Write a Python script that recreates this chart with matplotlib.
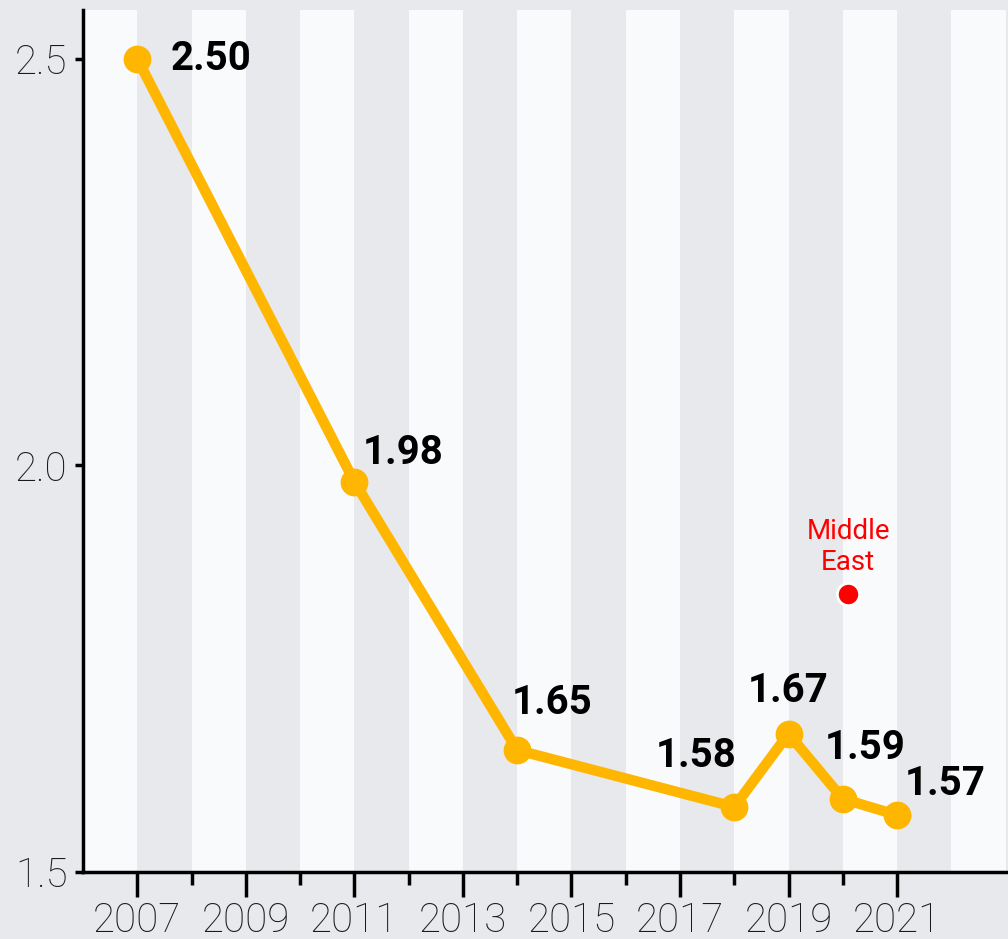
import matplotlib.pyplot as plt
from matplotlib.ticker import MultipleLocator

# data
years = [2007, 2011, 2014, 2018, 2019, 2020, 2021]
values = [2.50, 1.98, 1.65, 1.58, 1.67, 1.59, 1.57]
labels = ["2.50", "1.98", "1.65", "1.58", "1.67", "1.59", "1.57"]
# label offsets in pixels (dx, dy) and horizontal alignment
label_pos = [(33, 0, "left"), (8, 29, "left"), (-5, 47, "left"), (2, 51, "right"),
             (0, 43, "center"), (22, 51, "center"), (8, 31, "left")]
me_year = 2020.1
me_value = 1.842

band_color = "#f9fafc"
bg_color = "#e8e9ec"
line_color = "#ffb600"

plt.rcParams["font.family"] = ["Roboto", "DejaVu Sans"]

fig = plt.figure(figsize=(10.08, 9.39), dpi=100, facecolor=bg_color)
ax = fig.add_axes([83 / 1008, 67 / 939, (1005.6 - 83) / 1008, (872 - 10) / 939])
ax.set_facecolor(bg_color)

for y in range(2006, 2023, 2):
    ax.axvspan(y, y + 1, color=band_color, lw=0, zorder=0)

ax.plot(years, values, color=line_color, lw=7.5, marker="o", markersize=19,
        solid_capstyle="round", zorder=3)

for x, v, t, (dx, dy, ha) in zip(years, values, labels, label_pos):
    ax.annotate(t, (x, v), xytext=(dx, dy), textcoords="offset pixels",
                ha=ha, va="center", fontsize=29, fontweight="bold",
                color="black", zorder=4)

ax.plot([me_year], [me_value], "o", color="red", markersize=16,
        markeredgecolor="white", markeredgewidth=2, zorder=4)
ax.annotate("Middle\nEast", (me_year, me_value), xytext=(0, 18),
            textcoords="offset pixels", ha="center", va="bottom",
            fontsize=20, color="red", linespacing=1.2)

ax.set_xlim(2006, 2023)
ax.set_ylim(1.5, 2.56)
ax.set_xticks(range(2007, 2022, 2))
ax.xaxis.set_minor_locator(plt.FixedLocator(range(2008, 2021, 2)))
ax.yaxis.set_major_locator(MultipleLocator(0.5))

for s in ["top", "right"]:
    ax.spines[s].set_visible(False)
for s in ["left", "bottom"]:
    ax.spines[s].set_linewidth(2.5)
    ax.spines[s].set_color("black")

ax.tick_params(axis="x", which="major", length=18, width=2.5, pad=3,
               labelsize=29, labelcolor="#1a1a1a")
ax.tick_params(axis="x", which="minor", length=9, width=2.5)
ax.tick_params(axis="y", length=6, width=2.5, pad=5, labelsize=29,
               labelcolor="#1a1a1a")
for lab in ax.get_xticklabels() + ax.get_yticklabels():
    lab.set_fontweight("light")

fig.savefig("out.png", dpi=100, facecolor=bg_color)
